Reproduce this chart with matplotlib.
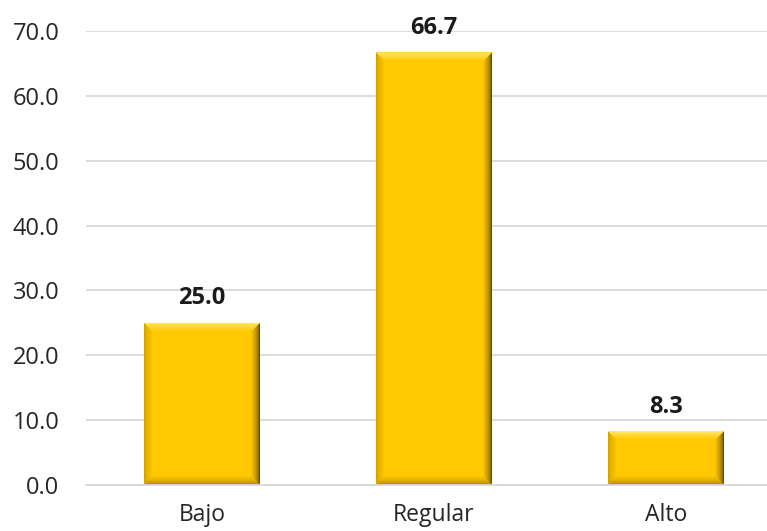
import matplotlib
matplotlib.use("Agg")
import matplotlib.pyplot as plt
import numpy as np
from matplotlib.patches import Polygon
from matplotlib.colors import to_rgb

categories = ["Bajo", "Regular", "Alto"]
values = [25.0, 66.7, 8.3]
yticks = [0, 10, 20, 30, 40, 50, 60, 70]

plt.rcParams['font.family'] = ['Open Sans', 'DejaVu Sans']

W, H = 767, 531
fig = plt.figure(figsize=(W / 100, H / 100), dpi=100)
ax_left, ax_right = 86 / W, 1.0
ax_bottom, ax_top = (H - 485) / H, (H - 31) / H
ax = fig.add_axes([ax_left, ax_bottom, ax_right - ax_left, ax_top - ax_bottom])

x = np.arange(len(categories))
bars = ax.bar(x, values, width=0.5, color="#FFC800", zorder=3, linewidth=0)

ax.set_xlim(-0.5, 2.5 - 15 / 232)
ax.set_ylim(0, 70)
ax.set_yticks(yticks)
ax.set_yticklabels([f"{v:.1f}" for v in yticks], fontsize=17, color="#262626")
ax.set_xticks(x)
ax.set_xticklabels(categories, fontsize=16.5, color="#262626")
ax.tick_params(axis="y", length=0, pad=19)
ax.tick_params(axis="x", length=0, pad=13)
ax.grid(axis="y", color="#d9d9d9", linewidth=1.3, zorder=0)
for s in ["top", "right", "left"]:
    ax.spines[s].set_visible(False)
ax.spines["bottom"].set_color("#d9d9d9")
ax.spines["bottom"].set_linewidth(1.3)
ax.spines["bottom"].set_zorder(4)

# bevel effect
px_x = (ax_right - ax_left) * W / (ax.get_xlim()[1] - ax.get_xlim()[0])
px_y = (ax_top - ax_bottom) * H / 70.0
bev = 9
dx, dy = bev / px_x, bev / px_y
n = 10
base = np.array(to_rgb("#FFC800"))

def blend(c_out, t):
    c = np.array(to_rgb(c_out))
    return tuple(c * (1 - t) + base * t)

edge_cols = {
    "right": "#4a3800",
    "left": "#c99a00",
    "top": "#fff08a",
    "bottom": "#9a7400",
}
for b in bars:
    x0, y0 = b.get_x(), b.get_y()
    x1, y1 = x0 + b.get_width(), y0 + b.get_height()
    for k in range(n):
        to, ti = k / n, (k + 1) / n
        t = (k + 0.5) / n
        f = t ** 0.8
        ox0, ox1, oy0, oy1 = x0 + dx * to, x1 - dx * to, y0 + dy * to, y1 - dy * to
        ix0, ix1, iy0, iy1 = x0 + dx * ti, x1 - dx * ti, y0 + dy * ti, y1 - dy * ti
        polys = {
            "right": [(ox1, oy0), (ox1, oy1), (ix1, iy1), (ix1, iy0)],
            "left": [(ox0, oy0), (ox0, oy1), (ix0, iy1), (ix0, iy0)],
            "top": [(ox0, oy1), (ox1, oy1), (ix1, iy1), (ix0, iy1)],
            "bottom": [(ox0, oy0), (ox1, oy0), (ix1, iy0), (ix0, iy0)],
        }
        for side, pts in polys.items():
            ax.add_patch(Polygon(pts, closed=True, facecolor=blend(edge_cols[side], f),
                                 edgecolor="none", zorder=3.5))
    ax.annotate(f"{b.get_height():.1f}", (b.get_x() + b.get_width() / 2, y1),
                xytext=(0, 9), textcoords="offset points", ha="center", va="bottom",
                fontsize=17, fontweight="bold", color="#1a1a1a", annotation_clip=False, zorder=5)

fig.savefig("out.png", dpi=100)
